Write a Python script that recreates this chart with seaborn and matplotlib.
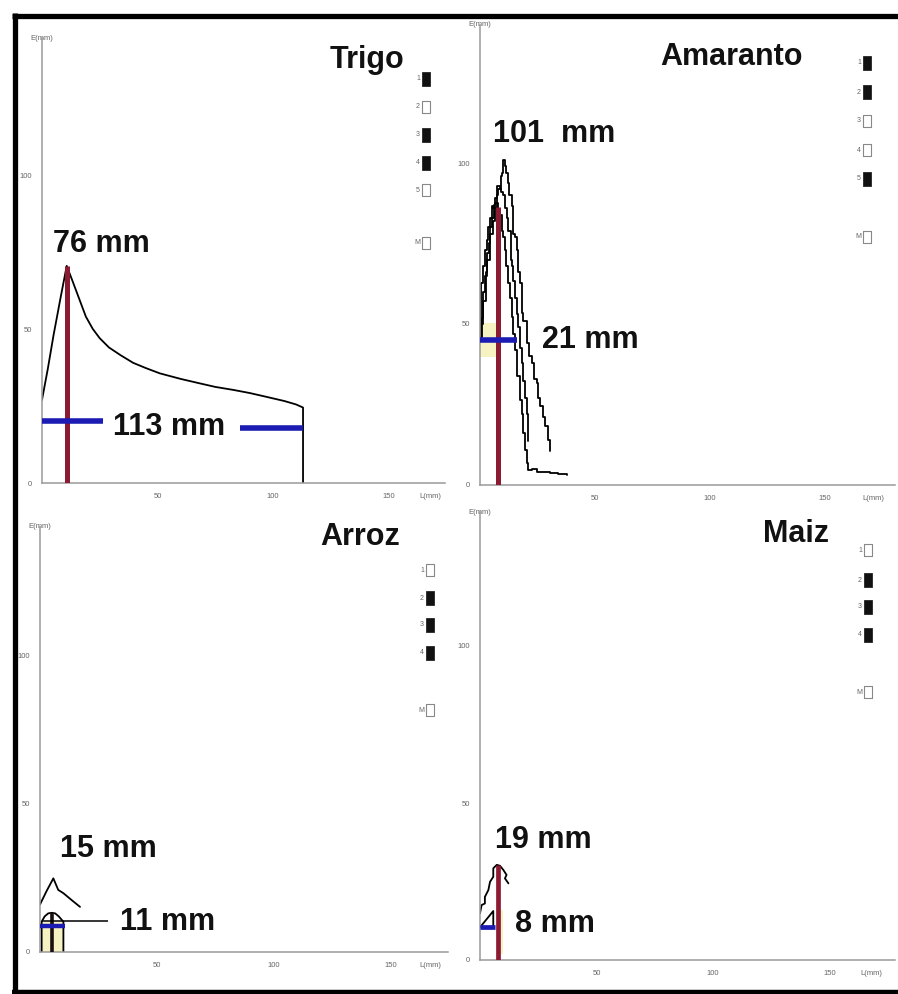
import matplotlib
matplotlib.use('Agg')
import matplotlib.pyplot as plt
import seaborn as sns

# Values: E (mm) against L (mm)

# Trigo
trigo_x = [0, 2.5, 5, 8, 10.7, 13, 14.5, 16.5, 19, 22, 25, 29, 34, 39.5, 45, 51, 60, 68, 75, 83,
           90, 97, 105, 110, 113, 113]
trigo_y = [27, 37, 48, 60, 70.5, 66, 63, 59, 54, 50, 47, 44, 41.5, 39, 37.3, 35.6, 33.8, 32.4,
           31.2, 30.2, 29.2, 28, 26.6, 25.5, 24.5, 0]
trigo_peak = (10.7, 70.5)
trigo_blue_left = (0, 26.4, 20.2)
trigo_blue_right = (85.7, 113, 18.0)

# Amaranto (three repetitions)
amar1_x = [0.6, 1.5, 2.5, 3.2, 4.5, 5.5, 6.5, 7.2, 8.0, 9.0, 9.6, 10.1, 10.7, 11.2, 12.3, 12.8,
           13.8, 14.5, 15.0, 15.9, 16.6, 17.4, 18.1, 18.8, 20.3, 21.2, 22.5, 23.4, 24.6, 25.2,
           26.1, 27.3, 28.3, 29.4, 30.4]
amar1_y = [50, 57, 66, 70, 78, 82, 86, 90, 92, 96, 97, 101, 99, 97, 93.7, 90, 86.5, 78, 77, 73,
           66, 62.7, 53.4, 51, 44.1, 40, 37.9, 33, 31.7, 27, 24.5, 21, 18.3, 14, 10.5]
amar2_x = [0, 0.8, 1.5, 2.3, 3.0, 3.8, 4.5, 5.2, 6.0, 6.6, 7.2, 8.5, 9.2, 10.0, 11.0, 11.6, 12.3,
           13.4, 13.9, 14.5, 15.2, 15.9, 16.6, 17.4, 18.1, 18.8, 19.5, 20.3, 21.0]
amar2_y = [46, 52, 60, 65, 72, 75, 80, 83, 87, 89, 93, 92, 91, 90, 86, 83, 78.9, 70, 68, 63.4,
           58, 53, 49, 42.7, 38, 32.4, 27, 22, 13.8]
amar3_x = [0, 0.6, 1.4, 2.2, 2.9, 3.6, 4.4, 5.1, 5.8, 6.5, 8.0, 9.5, 10.1, 10.8, 11.5, 12.3, 13.0,
           13.8, 14.5, 15.2, 16.3, 17.4, 18.1, 18.8, 19.6, 20.3, 21.0, 22.5, 24.6, 27.5, 30.4,
           34.0, 37.7]
amar3_y = [46, 62.6, 68, 73, 76, 80, 83, 86.5, 86, 87.5, 84, 79, 77, 73, 68, 62.7, 58, 52.3, 47,
           42, 34, 26.4, 22, 16, 11, 6.7, 4.7, 4.9, 4.1, 4.0, 3.6, 3.4, 3.1]
amar_peak = (8.0, 86.4)
amar_blue = (0, 16, 45)
amar_tint = (0, 8, 39.8, 50.3)

# Arroz
arroz_x = [0, 2.8, 5.7, 7.8, 10, 13.5, 17.1]
arroz_y = [16, 20.5, 24.8, 20.9, 19.8, 17.5, 15.2]
arroz_dome_x = [0.7, 0.7, 2, 3.5, 5, 6.5, 8, 10, 10]
arroz_dome_y = [0, 10.2, 12, 13, 13.2, 13, 12, 10.2, 0]
arroz_center = (5, 13)
arroz_blue = (0, 10.7, 8.9)
arroz_leader = (0.7, 29.2, 10.5)
arroz_tint = (0.7, 10, 0, 10)

# Maiz
maiz_x = [0, 0.7, 2.1, 2.1, 3.6, 4.3, 5.7, 5.7, 7.2, 8.6, 10.0, 11.4, 10.7, 12.2]
maiz_y = [14.9, 17.5, 18, 20.1, 22.3, 24.9, 26.5, 29.2, 30.3, 30, 28.7, 27.1, 26, 24.4]
maiz_small_x = [0, 5.7, 5.7]
maiz_small_y = [10.4, 15.6, 10.4]
maiz_peak = (7.9, 30.3)
maiz_blue = (0, 6.4, 10.4)
maiz_tint = (8.6, 9.8, 2, 16)

# legend keys (filled = solid box)
trigo_keys = ['1', '2', '3', '4', '5', 'M']
trigo_filled = [1, 0, 1, 1, 0, 0]
amar_keys = ['1', '2', '3', '4', '5', 'M']
amar_filled = [1, 1, 0, 0, 1, 0]
arroz_keys = ['1', '2', '3', '4', 'M']
arroz_filled = [0, 1, 1, 1, 0]
maiz_keys = ['1', '2', '3', '4', 'M']
maiz_filled = [0, 1, 1, 1, 0]

RED = '#8b1a32'
BLUE = '#1c1cb4'
TINT = '#f6f2c2'
AXC = '#9a9a9a'
TXT = '#111111'

sns.set_theme(style='white')
plt.rcParams['font.family'] = ['Liberation Sans', 'DejaVu Sans']

W, H = 898, 994
fig = plt.figure(figsize=(W / 100, H / 100), dpi=100)
fig.patch.set_facecolor('white')


def panel(left, top, right, bottom, sx, sy, lmm):
    ax = fig.add_axes([left / W, 1 - bottom / H, (right - left) / W, (bottom - top) / H])
    ax.set_xlim(0, (right - left) / sx)
    ax.set_ylim(0, (bottom - top) / sy)
    ax.set_facecolor('white')
    for s in ['top', 'right']:
        ax.spines[s].set_visible(False)
    for s in ['left', 'bottom']:
        ax.spines[s].set_color(AXC)
        ax.spines[s].set_linewidth(1.1)
    ax.set_xticks([50, 100, 150, lmm])
    ax.set_xticklabels(['50', '100', '150', 'L(mm)'])
    ax.set_yticks([0, 50, 100])
    ax.set_yticklabels(['0', '50', '100'])
    ax.tick_params(labelsize=5.5, colors='#888', labelcolor='#666', length=2, width=0.6, pad=5)
    ax.text(0, 1.0, 'E(mm)', transform=ax.transAxes, ha='center', va='center',
            fontsize=5.5, color='#666')
    ax.set_xlabel('')
    ax.set_ylabel('')
    return ax


def curve(ax, x, y, **kw):
    sns.lineplot(x=x, y=y, ax=ax, color='black', lw=1.3, sort=False,
                 estimator=None, **kw)


# Trigo
ax1 = panel(42, 38, 445, 483, 2.31, 3.08, 168)
curve(ax1, trigo_x, trigo_y)
ax1.vlines(trigo_peak[0], 0, trigo_peak[1], color=RED, lw=3.6, zorder=3)
ax1.hlines(trigo_blue_left[2], trigo_blue_left[0], trigo_blue_left[1], color=BLUE, lw=4, zorder=4)
ax1.hlines(trigo_blue_right[2], trigo_blue_right[0], trigo_blue_right[1], color=BLUE, lw=4, zorder=4)

# Amaranto
ax2 = panel(480, 25, 895, 485, 2.3, 3.22, 171)
ax2.fill_between([amar_tint[0], amar_tint[1]], amar_tint[2], amar_tint[3], color=TINT, lw=0, zorder=0.5)
for xs, ys in [(amar1_x, amar1_y), (amar2_x, amar2_y), (amar3_x, amar3_y)]:
    curve(ax2, xs, ys, drawstyle='steps-post')
ax2.vlines(amar_peak[0], 0, amar_peak[1], color=RED, lw=3.6, zorder=3)
ax2.hlines(amar_blue[2], amar_blue[0], amar_blue[1], color=BLUE, lw=4, zorder=4)

# Arroz
ax3 = panel(40, 527, 448, 952, 2.34, 2.97, 167)
ax3.fill_between([arroz_tint[0], arroz_tint[1]], arroz_tint[2], arroz_tint[3], color=TINT, lw=0, zorder=0.5)
curve(ax3, arroz_x, arroz_y)
curve(ax3, arroz_dome_x, arroz_dome_y)
ax3.vlines(arroz_center[0], 0, arroz_center[1], color='#1a1010', lw=2.6, zorder=3)
ax3.hlines(arroz_leader[2], arroz_leader[0], arroz_leader[1], color='black', lw=1.1, zorder=3)
ax3.hlines(arroz_blue[2], arroz_blue[0], arroz_blue[1], color=BLUE, lw=3.2, zorder=4)

# Maiz
ax4 = panel(480, 512, 895, 960, 2.33, 3.14, 168)
ax4.fill_between([maiz_tint[0], maiz_tint[1]], maiz_tint[2], maiz_tint[3], color=TINT, lw=0, zorder=0.5)
curve(ax4, maiz_x, maiz_y)
curve(ax4, maiz_small_x, maiz_small_y)
ax4.vlines(maiz_peak[0], 0, maiz_peak[1], color=RED, lw=3.4, zorder=3)
ax4.hlines(maiz_blue[2], maiz_blue[0], maiz_blue[1], color=BLUE, lw=3.4, zorder=4)

# overlay in pixel units for titles, labels, keys and frame
ov = fig.add_axes([0, 0, 1, 1], zorder=10)
ov.set_xlim(0, W)
ov.set_ylim(H, 0)
ov.axis('off')
ov.patch.set_alpha(0)

big = dict(fontsize=22, fontweight='bold', color=TXT, ha='left', va='baseline')
for x, y, s in [(330, 68, 'Trigo'), (53, 252, '76 mm'), (113, 435, '113 mm'),
                (660, 65, 'Amaranto'), (493, 142, '101  mm'), (542, 348, '21 mm'),
                (320, 545, 'Arroz'), (60, 857, '15 mm'), (120, 930, '11 mm'),
                (763, 542, 'Maiz'), (495, 848, '19 mm'), (515, 932, '8 mm')]:
    ov.text(x, y, s, **big)

box = [(-0.3, -0.5), (0.3, -0.5), (0.3, 0.5), (-0.3, 0.5), (-0.3, -0.5)]
for kx, ys, keys, filled in [(426, [79, 107, 135, 163, 190, 243], trigo_keys, trigo_filled),
                             (867, [63, 92, 121, 150, 179, 237], amar_keys, amar_filled),
                             (430, [570, 598, 625, 653, 710], arroz_keys, arroz_filled),
                             (868, [550, 580, 607, 635, 692], maiz_keys, maiz_filled)]:
    for yy, k, f in zip(ys, keys, filled):
        if f:
            ov.plot([kx], [yy], marker=box, ms=9.5, mfc='#111', mec='#111', mew=0.5, ls='none')
        else:
            ov.plot([kx], [yy], marker=box, ms=9, mfc='white', mec='#888', mew=0.8, ls='none')
        ov.text(kx - 6, yy, k, fontsize=5, color='#666', ha='right', va='center')

# scan frame
ov.plot([14.5, 14.5], [13, 993], color='black', lw=3.8, solid_capstyle='butt')
ov.plot([12, 898], [15.5, 15.5], color='black', lw=3.8, solid_capstyle='butt')
ov.plot([12, 898], [991.5, 991.5], color='black', lw=3.2, solid_capstyle='butt')

fig.savefig('out.png', dpi=100, facecolor='white')
